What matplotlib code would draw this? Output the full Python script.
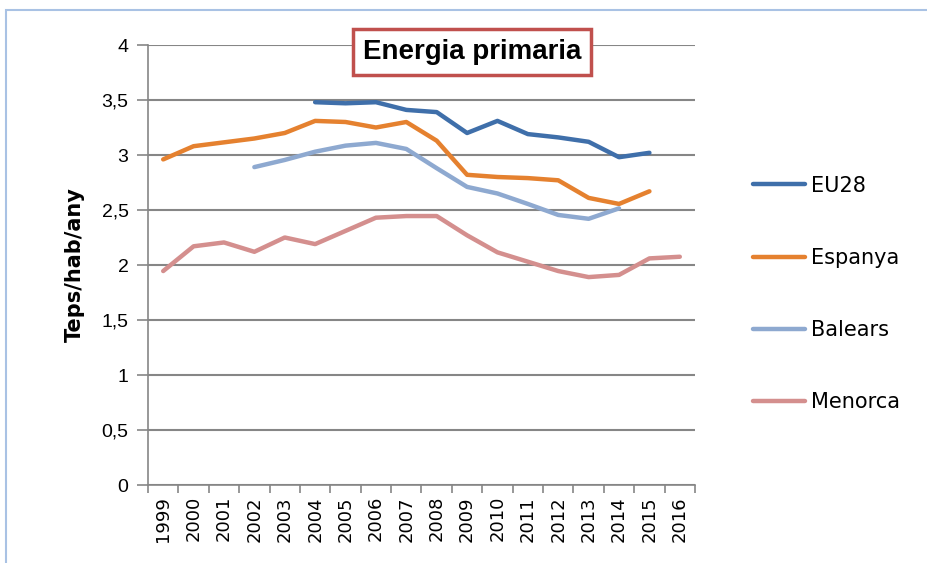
import numpy as np
import matplotlib.pyplot as plt
from matplotlib.patches import Rectangle

# dades (Teps/hab/any)
years = [str(y) for y in range(1999, 2017)]
eu28 = [None, None, None, None, None, 3.48, 3.47, 3.48, 3.41, 3.39, 3.20, 3.31,
        3.19, 3.16, 3.12, 2.98, 3.02, None]
espanya = [2.96, 3.08, 3.115, 3.15, 3.20, 3.31, 3.30, 3.25, 3.30, 3.13, 2.82, 2.80,
           2.79, 2.77, 2.61, 2.555, 2.67, None]
balears = [None, None, None, 2.89, 2.955, 3.03, 3.085, 3.11, 3.055, 2.88, 2.71, 2.65,
           2.555, 2.455, 2.42, 2.515, None, None]
menorca = [1.945, 2.17, 2.205, 2.12, 2.25, 2.19, 2.31, 2.43, 2.445, 2.445, 2.27, 2.115,
           2.03, 1.945, 1.89, 1.91, 2.06, 2.075]
series = ['EU28', 'Espanya', 'Balears', 'Menorca']
colors = ['#3F6FAA', '#E5812F', '#8EA9D0', '#D48F8E']

fig = plt.figure(figsize=(9.28, 5.63), dpi=100)
ax = fig.add_axes([148/928, 1-485/563, (695-148)/928, (485-45)/563])

# marc exterior
fig.patches.append(Rectangle((6/928, -0.1), 1.1, (553/563)+0.1, transform=fig.transFigure,
                             fill=False, edgecolor='#A9C2E4', linewidth=1.5))

x = np.arange(len(years))
for name, vals, c in zip(series, [eu28, espanya, balears, menorca], colors):
    y = np.array([np.nan if v is None else v for v in vals])
    ax.plot(x, y, color=c, linewidth=3.2, solid_capstyle='round', label=name, zorder=3)

ax.set_ylim(0, 4)
ax.set_xlim(-0.5, len(years) - 0.5)
ax.set_yticks(np.arange(0, 4.01, 0.5))
ax.set_yticklabels(['0', '0,5', '1', '1,5', '2', '2,5', '3', '3,5', '4'],
                   fontsize=14, family='Liberation Sans')
ax.set_xticks(np.arange(-0.5, len(years), 1.0))
ax.set_xticklabels([])
ax.set_xticks(x, minor=True)
ax.set_xticklabels(years, minor=True, rotation=90, fontsize=13)
ax.tick_params(axis='x', which='minor', length=0, pad=8)
ax.tick_params(axis='x', which='major', length=6, color='#868686', width=1.2)
ax.tick_params(axis='y', length=8, color='#868686', width=1.2, pad=6)

ax.grid(axis='y', color='#868686', linewidth=1.5)
ax.set_axisbelow(True)
for s in ['top', 'right']:
    ax.spines[s].set_visible(False)
for s in ['left', 'bottom']:
    ax.spines[s].set_color('#868686')
    ax.spines[s].set_linewidth(1.2)

ax.set_ylabel('Teps/hab/any', fontsize=15, fontweight='bold', labelpad=12)

ax.text(472/928, 1-52/563, 'Energia primaria', transform=fig.transFigure, ha='center', va='center',
        fontsize=20, fontweight='bold', family='Liberation Sans',
        bbox=dict(boxstyle='square,pad=0.35', facecolor='white', edgecolor='#C0504D', linewidth=2.5),
        zorder=5)

fig.legend(loc='upper left', bbox_to_anchor=(734/928, 1-157/563), frameon=False,
           fontsize=15, labelspacing=2.5, handlelength=2.5, handletextpad=0.3)

plt.savefig('out.png', dpi=100)
